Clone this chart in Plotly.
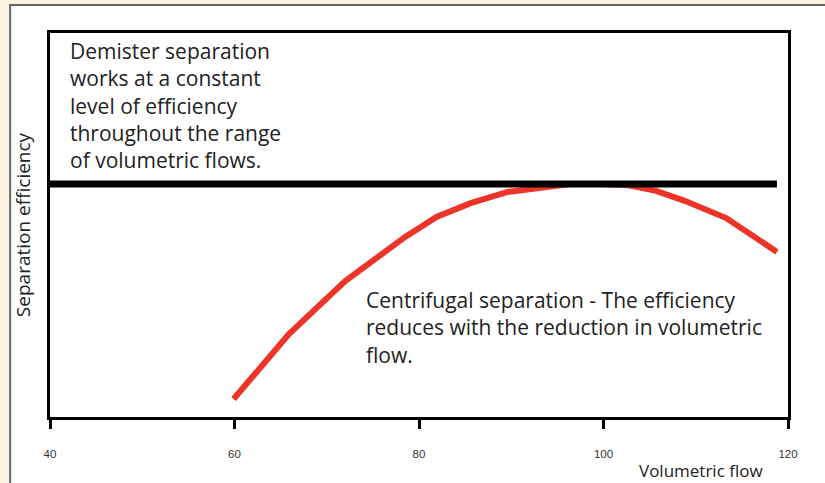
import plotly.graph_objects as go

# Data
flow_demister = [40, 118.8]
eff_demister = [60.7, 60.7]

flow_centrifugal = [59.9, 65.9, 72.0, 75.1, 78.5, 81.9, 85.6, 89.6, 94.0, 96.4, 99.7, 102.6, 105.7, 108.8, 113.3, 118.8]
eff_centrifugal = [4.7, 21.6, 35.4, 41.1, 46.9, 52.1, 55.7, 58.6, 60.2, 60.7, 60.7, 60.4, 58.9, 56.3, 51.8, 43.0]

x_ticks = [40, 60, 80, 100, 120]
x_ticklabels = ["40", "60", "80", "100", "120"]

text_font = "Open Sans, Liberation Sans, Arial, sans-serif"

fig = go.Figure()
fig.add_trace(go.Scatter(x=flow_centrifugal, y=eff_centrifugal, mode="lines",
                         line=dict(color="#EE3329", width=6), hoverinfo="skip"))
fig.add_trace(go.Scatter(x=flow_demister, y=eff_demister, mode="lines",
                         line=dict(color="#000000", width=7), hoverinfo="skip"))

fig.update_layout(
    width=825, height=483,
    margin=dict(l=50, r=37, t=33, b=66),
    paper_bgcolor="#FCF4E3",
    plot_bgcolor="#FFFFFF",
    showlegend=False,
    font=dict(family=text_font, color="#222222"),
    xaxis=dict(range=[40, 120], tickvals=x_ticks, ticktext=x_ticklabels,
               automargin=False,
               showgrid=False, zeroline=False, showline=True, linewidth=3,
               linecolor="#000000", mirror=True, ticks="outside", ticklen=9,
               tickwidth=3, tickcolor="#000000", ticklabelstandoff=15,
               tickfont=dict(family="Liberation Sans, Arial, sans-serif", size=11.5, color="#333333")),
    yaxis=dict(range=[0, 100], showgrid=False, zeroline=False, showline=True,
               automargin=False,
               linewidth=3, linecolor="#000000", mirror=True,
               showticklabels=False, ticks="",
               title=dict(text="Separation efficiency", standoff=12,
                          font=dict(size=19, color="#222222"))),
    shapes=[dict(type="rect", xref="paper", yref="paper",
                 x0=-0.054, x1=1.2, y0=-0.4, y1=1.073,
                 line=dict(color="#666666", width=2), fillcolor="#FFFFFF",
                 layer="below")],
    annotations=[
        dict(text="Demister separation<br>works at a constant<br>level of efficiency<br>throughout the range<br>of volumetric flows.",
             xref="paper", yref="paper", x=0.025, y=0.995, xanchor="left", yanchor="top",
             align="left", showarrow=False, font=dict(size=21, color="#222222")),
        dict(text="Centrifugal separation - The efficiency<br>reduces with the reduction in volumetric<br>flow.",
             xref="paper", yref="paper", x=0.426, y=0.346, xanchor="left", yanchor="top",
             align="left", showarrow=False, font=dict(size=21, color="#222222")),
        dict(text="Volumetric flow", xref="paper", yref="paper", x=0.882, y=-0.105,
             xanchor="center", yanchor="top", showarrow=False,
             font=dict(size=17, color="#222222")),
    ],
)

fig.write_html("out.html", config={"displayModeBar": False},
               post_script="document.body.style.margin='0';document.body.style.padding='0';")
